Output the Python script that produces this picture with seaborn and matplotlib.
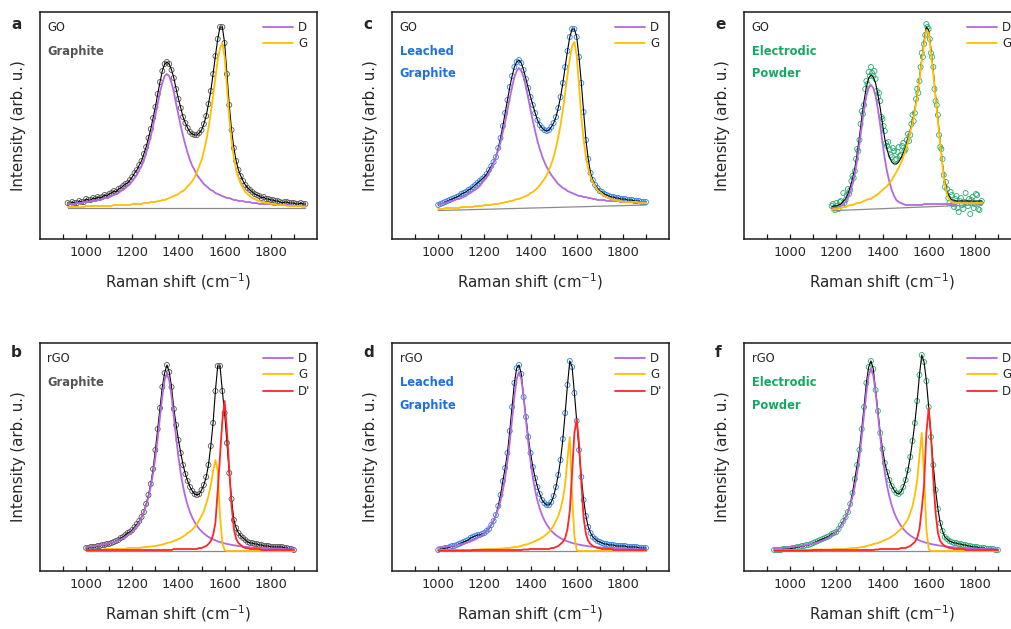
import numpy as np
import pandas as pd
import matplotlib
matplotlib.use('Agg')
import matplotlib.pyplot as plt
import seaborn as sns
from matplotlib.lines import Line2D
from matplotlib.ticker import FixedLocator

sns.set_style('white')
plt.rcParams['font.family'] = ['DejaVu Sans']

# ---- data (height in axis units, 10 cm-1 grid) ----
# a: GO, graphite (920-1950)
spectrum_a = [36, 35, 37, 36, 36, 38, 37, 37, 40, 39,
              39, 41, 40, 42, 41, 42, 44, 43, 45, 46,
              48, 47, 50, 51, 53, 55, 56, 59, 62, 66,
              69, 74, 78, 85, 92, 101, 110, 121, 132, 145,
              157, 168, 175, 177, 175, 169, 161, 150, 140, 131,
              122, 116, 111, 107, 105, 104, 104, 106, 109, 115,
              123, 135, 148, 165, 183, 200, 212, 212, 196, 165,
              134, 109, 91, 78, 69, 63, 58, 54, 51, 49,
              47, 45, 44, 43, 41, 42, 40, 40, 39, 39,
              38, 38, 37, 36, 37, 37, 36, 36, 36, 35,
              35, 36, 35, 35]
d_band_a = [4, 4, 4, 4, 5, 5, 5, 6, 6, 6,
            7, 7, 7, 8, 8, 9, 10, 10, 11, 12,
            13, 14, 15, 17, 18, 20, 22, 24, 27, 30,
            33, 38, 42, 48, 55, 63, 72, 82, 93, 104,
            116, 125, 132, 134, 132, 125, 116, 104, 93, 82,
            72, 63, 55, 48, 42, 38, 33, 30, 27, 24,
            22, 20, 18, 17, 15, 14, 13, 12, 11, 10,
            10, 9, 8, 8, 7, 7, 7, 6, 6, 6,
            5, 5, 5, 4, 4, 4, 4, 4, 4, 3,
            3, 3, 3, 3, 3, 3, 3, 3, 2, 2,
            2, 2, 2, 2]
g_band_a = [1, 1, 1, 1, 1, 1, 1, 1, 2, 2,
            2, 2, 2, 2, 2, 2, 2, 2, 2, 2,
            3, 3, 3, 3, 3, 3, 3, 3, 4, 4,
            4, 4, 4, 5, 5, 5, 6, 6, 6, 7,
            7, 8, 8, 9, 10, 11, 12, 13, 14, 16,
            17, 19, 22, 24, 27, 31, 36, 42, 48, 57,
            67, 80, 95, 112, 130, 148, 160, 165, 151, 121,
            90, 67, 50, 38, 30, 24, 20, 16, 14, 12,
            10, 9, 8, 7, 6, 6, 5, 5, 4, 4,
            4, 3, 3, 3, 3, 2, 2, 2, 2, 2,
            2, 2, 1, 1]
base_a = 31

# b: rGO, graphite (1000-1900)
spectrum_b = [23, 23, 24, 24, 24, 25, 25, 26, 26, 27,
              27, 28, 29, 30, 31, 33, 34, 36, 38, 39,
              41, 44, 47, 50, 54, 59, 67, 76, 87, 102,
              121, 142, 163, 184, 198, 206, 199, 184, 162, 146,
              131, 118, 106, 97, 90, 84, 80, 77, 76, 77,
              81, 86, 94, 106, 125, 148, 180, 205, 205, 180,
              158, 128, 98, 72, 51, 43, 38, 35, 33, 31,
              29, 28, 28, 27, 27, 26, 26, 25, 25, 25,
              24, 24, 24, 24, 24, 24, 23, 23, 22, 22,
              21]
d_band_b = [3.9, 4.2, 4.4, 4.7, 5.0, 5.4, 5.7, 6.1, 6.6, 7.1,
            7.6, 8.2, 8.9, 9.7, 10.6, 11.6, 12.8, 14.1, 15.7, 17.5,
            19.6, 22.2, 25.2, 28.9, 33.3, 38.8, 45.6, 54.0, 64.5, 77.6,
            93.7, 112.8, 134.0, 154.9, 170.9, 177.0, 170.9, 154.9, 134.0, 112.8,
            93.7, 77.6, 64.5, 54.0, 45.6, 38.8, 33.3, 28.9, 25.2, 22.2,
            19.6, 17.5, 15.7, 14.1, 12.8, 11.6, 10.6, 9.7, 8.9, 8.2,
            7.6, 7.1, 6.6, 6.1, 5.7, 5.4, 5.0, 4.7, 4.4, 4.2,
            3.9, 3.7, 3.5, 3.3, 3.1, 3.0, 2.9, 2.7, 2.6, 2.5,
            2.4, 2.3, 2.2, 2.2, 2.1, 2.0, 1.9, 1.8, 1.8, 1.7,
            1.6]
g_band_b = [1, 1, 1, 1, 1, 1, 1, 1, 2, 2,
            2, 2, 2, 2, 2, 2, 2, 2, 3, 3,
            3, 3, 3, 3, 3.5, 3.7, 4, 4.2, 4.5, 4.7,
            5, 5.5, 6, 6.5, 7, 8, 8.5, 9, 10, 11,
            12, 13, 14.5, 16, 18, 19.5, 21.5, 24, 27, 31,
            35, 40, 47, 55, 66, 80, 91, 80, 35, 8,
            1, 0, 0, 0, 0, 0, 0, 0, 0, 0,
            0, 0, 0, 0, 0, 0, 0, 0, 0, 0,
            0, 0, 0, 0, 0, 0, 0, 0, 0, 0,
            0]
dprime_b = [1, 1, 1, 1, 1, 1, 1, 1, 1, 1,
            1, 1, 1, 1, 1, 1, 1, 1, 1, 1,
            1, 1, 1, 1, 1, 1, 1, 1, 1, 1,
            1, 1, 1, 1, 1, 1, 1, 1, 2, 2,
            2, 2, 2, 2, 2, 2, 2, 2, 2, 3,
            3, 4, 5, 7, 10, 16, 28, 60, 95, 130,
            150, 120, 82, 45, 22, 12, 8, 6, 4, 3,
            3, 2, 2, 2, 2, 2, 1, 1, 1, 1,
            1, 1, 1, 1, 1, 1, 1, 1, 1, 1,
            1]
base_b = 20

# c: GO, leached graphite (1000-1900), bands include the sloped baseline
spectrum_c = [34, 35, 36, 37, 38, 39, 40, 41, 42, 43,
              45, 46, 47, 49, 50, 52, 54, 56, 58, 60,
              62, 65, 69, 73, 77, 82, 91, 101, 113, 126,
              139, 152, 163, 172, 177, 179, 176, 169, 160, 151,
              142, 134, 126, 119, 114, 111, 109, 108, 109, 112,
              116, 122, 131, 142, 156, 172, 188, 202, 210, 210,
              202, 182, 156, 127, 99, 80, 66, 59, 54, 51,
              48, 47, 45, 44, 43, 42, 42, 41, 41, 40,
              40, 40, 39, 39, 39, 38, 38, 38, 37, 37,
              37]
d_band_c = [35, 35, 36, 36, 37, 38, 38, 39, 40, 40,
            41, 42, 43, 45, 46, 48, 49, 51, 53, 56,
            59, 62, 66, 71, 76, 82, 89, 97, 107, 117,
            129, 141, 152, 162, 168, 171, 168, 162, 152, 141,
            129, 118, 108, 98, 90, 83, 77, 72, 68, 64,
            61, 58, 55, 53, 51, 50, 48, 47, 46, 45,
            44, 43, 43, 42, 42, 41, 41, 40, 40, 39,
            39, 39, 39, 38, 38, 38, 38, 38, 38, 37,
            37, 37, 37, 37, 37, 37, 37, 37, 37, 37,
            37]
g_band_c = [30, 30, 30, 31, 31, 31, 31, 31, 31, 31,
            32, 32, 32, 32, 32, 32, 33, 33, 33, 33,
            34, 34, 34, 34, 35, 35, 35, 36, 36, 37,
            37, 38, 38, 39, 40, 40, 41, 42, 43, 44,
            46, 47, 49, 51, 54, 57, 60, 64, 69, 75,
            82, 91, 102, 114, 129, 146, 164, 180, 193, 197,
            183, 153, 122, 99, 82, 70, 62, 57, 53, 49,
            47, 45, 43, 42, 41, 40, 39, 39, 38, 38,
            37, 37, 37, 37, 37, 37, 37, 36, 36, 36,
            36]
baseline_c = [28.5, 34.0]   # at 1000 and 1900

# d: rGO, leached graphite (1000-1900)
spectrum_d = [21, 22, 22, 23, 23, 24, 25, 25, 26, 27,
              28, 29, 30, 31, 33, 34, 35, 36, 36, 37,
              38, 40, 42, 46, 50, 56, 65, 76, 90, 103,
              118, 140, 164, 188, 203, 206, 197, 174, 154, 134,
              118, 104, 93, 84, 77, 71, 68, 66, 66, 69,
              75, 84, 96, 111, 132, 158, 186, 210, 204, 178,
              150, 121, 94, 71, 55, 44, 38, 34, 32, 30,
              29, 28, 27, 27, 26, 26, 26, 25, 25, 25,
              25, 25, 24, 24, 24, 24, 24, 23, 23, 23,
              23]
d_band_d = [3.6, 3.8, 4.0, 4.3, 4.5, 4.8, 5.2, 5.5, 5.9, 6.4,
            6.9, 7.4, 8.1, 8.8, 9.6, 10.5, 11.6, 12.8, 14.3, 15.9,
            17.9, 20.2, 23.1, 26.5, 30.7, 35.8, 42.2, 50.3, 60.5, 73.4,
            89.5, 109.1, 131.6, 154.3, 172.1, 179.0, 172.1, 154.3, 131.6, 109.1,
            89.5, 73.4, 60.5, 50.3, 42.2, 35.8, 30.7, 26.5, 23.1, 20.2,
            17.9, 15.9, 14.3, 12.8, 11.6, 10.5, 9.6, 8.8, 8.1, 7.4,
            6.9, 6.4, 5.9, 5.5, 5.2, 4.8, 4.5, 4.3, 4.0, 3.8,
            3.6, 3.4, 3.2, 3.0, 2.9, 2.8, 2.6, 2.5, 2.4, 2.3,
            2.2, 2.1, 2.0, 1.9, 1.9, 1.8, 1.7, 1.7, 1.6, 1.6,
            1.5]
g_band_d = [1, 1, 1, 1, 1, 1, 1, 1, 1, 1,
            1, 1, 1, 1, 1, 1.2, 1.3, 1.4, 1.5, 1.6,
            2, 2, 2, 2, 2, 2, 2.2, 2.4, 2.6, 2.8,
            3, 3, 3.5, 4, 4, 4.5, 5, 6, 6.5, 7,
            8, 9, 10, 11, 12, 13.5, 15, 17, 19, 22,
            25.5, 30, 35, 42, 52, 67, 92, 114, 55, 15,
            1, 0, 0, 0, 0, 0, 0, 0, 0, 0,
            0, 0, 0, 0, 0, 0, 0, 0, 0, 0,
            0, 0, 0, 0, 0, 0, 0, 0, 0, 0,
            0]
dprime_d = [0.5, 0.5, 0.5, 0.5, 0.5, 0.5, 0.5, 0.5, 0.5, 0.5,
            0.5, 0.5, 0.5, 0.5, 0.5, 1, 1, 1, 1, 1,
            1, 1, 1, 1, 1, 1, 1, 1, 1, 1,
            1, 1, 1, 1, 1, 1, 1, 1.5, 1.5, 1.5,
            2, 2, 2, 2, 2, 2, 2, 2, 2, 3,
            3, 4, 5, 7, 9, 13, 22, 40, 78, 118,
            132, 108, 68, 33, 17, 10, 7, 5, 4, 3,
            3, 2, 2, 2, 2, 2, 1, 1, 1, 1,
            1, 1, 1, 1, 1, 1, 1, 1, 1, 1,
            1]
base_d = 20

# e: GO, electrodic powder (data every 5 cm-1 from 1180, fit/bands every 10)
spectrum_e = [33, 35, 31, 29, 36, 33, 30, 37, 38, 34,
              46, 36, 39, 44, 50, 45, 49, 58, 63, 61,
              68, 80, 90, 88, 99, 115, 128, 125, 134, 150,
              158, 155, 167, 163, 172, 166, 163, 168, 160, 148,
              142, 146, 138, 122, 120, 113, 108, 96, 93, 97,
              90, 84, 82, 91, 88, 79, 80, 87, 92, 83,
              84, 93, 96, 88, 90, 99, 105, 98, 104, 115,
              124, 118, 126, 140, 150, 146, 158, 172, 186, 182,
              195, 204, 215, 212, 210, 200, 186, 182, 172, 150,
              138, 134, 124, 104, 92, 90, 80, 64, 52, 57,
              50, 41, 36, 47, 44, 35, 32, 40, 43, 31,
              27, 38, 41, 34, 30, 37, 46, 36, 33, 40,
              25, 39, 42, 31, 35, 45, 44, 30, 29, 36,
              38]
fit_e = [32, 33, 33, 34, 35, 38, 40, 45, 52, 60,
         71, 85, 102, 121, 138, 152, 161, 164, 162, 156,
         144, 131, 115, 100, 89, 82, 77, 75, 75, 77,
         81, 86, 92, 100, 109, 118, 130, 144, 161, 180,
         198, 212, 209, 190, 168, 143, 120, 97, 75, 58,
         47, 42, 39, 39, 38, 38, 38, 38, 38, 38,
         38, 38, 38, 38, 38, 38]
d_band_e = [31, 31, 31, 32, 33, 35, 37, 41, 47, 55,
            65, 79, 95, 113, 130, 143, 151, 154, 151, 143,
            130, 114, 96, 80, 67, 57, 49, 43, 39, 37,
            36, 35, 34, 34, 34, 34, 34, 34, 34, 34,
            35, 35, 35, 35, 35, 35, 35, 35, 35, 35,
            35, 35, 35, 35, 35, 36, 36, 36, 36, 36,
            36, 36, 36, 36, 36, 36]
g_band_e = [29, 30, 30, 31, 31, 32, 32, 33, 34, 34,
            35, 36, 36, 37, 38, 39, 40, 40, 42, 43,
            45, 47, 49, 51, 53, 56, 59, 63, 67, 71,
            76, 82, 89, 97, 107, 116, 128, 142, 159, 178,
            195, 209, 206, 187, 165, 141, 118, 95, 73, 55,
            44, 39, 37, 36, 36, 36, 36, 36, 36, 36,
            36, 36, 36, 36, 36, 36]
baseline_e = [28.3, 34.4]   # at 1180 and 1830

# f: rGO, electrodic powder (930-1900)
spectrum_f = [21, 21, 21, 21, 22, 22, 22, 22, 23, 23,
              24, 24, 25, 25, 26, 26, 27, 28, 29, 30,
              31, 32, 33, 34, 35, 37, 38, 39, 42, 46,
              50, 54, 59, 67, 78, 92, 106, 121, 142, 164,
              188, 204, 210, 202, 181, 160, 138, 122, 108, 99,
              91, 85, 81, 78, 77, 79, 84, 91, 101, 114,
              130, 148, 170, 196, 216, 209, 190, 164, 134, 106,
              81, 62, 48, 40, 34, 32, 30, 29, 28, 28,
              27, 27, 26, 26, 25, 25, 24, 24, 24, 23,
              23, 23, 22, 22, 22, 22, 21, 21]
d_band_f = [2.8, 2.9, 3.0, 3.2, 3.4, 3.5, 3.7, 3.9, 4.2, 4.4,
            4.7, 5.0, 5.3, 5.7, 6.1, 6.5, 7.0, 7.6, 8.2, 8.9,
            9.6, 10.5, 11.5, 12.7, 14.0, 15.6, 17.4, 19.5, 22.1, 25.1,
            28.8, 33.2, 38.7, 45.6, 54.1, 64.7, 78.1, 94.6, 114.3, 136.5,
            158.5, 175.5, 182.0, 175.5, 158.5, 136.5, 114.3, 94.6, 78.1, 64.7,
            54.1, 45.6, 38.7, 33.2, 28.8, 25.1, 22.1, 19.5, 17.4, 15.6,
            14.0, 12.7, 11.5, 10.5, 9.6, 8.9, 8.2, 7.6, 7.0, 6.5,
            6.1, 5.7, 5.3, 5.0, 4.7, 4.4, 4.2, 3.9, 3.7, 3.5,
            3.4, 3.2, 3.0, 2.9, 2.8, 2.6, 2.5, 2.4, 2.3, 2.2,
            2.1, 2.0, 2.0, 1.9, 1.8, 1.7, 1.7, 1.6]
g_band_f = [1, 1, 1, 1, 1, 1, 1, 1, 1, 1,
            1, 1, 1, 1, 1, 1, 1.5, 1.5, 1.5, 1.5,
            1.5, 1.5, 1.5, 1.5, 1.5, 1.5, 2, 2, 2, 2,
            2, 2, 2.5, 2.5, 3, 3, 3, 3.5, 4, 4,
            5, 5.5, 6, 7, 7.5, 8, 9, 10, 11, 12,
            13, 14.5, 16, 18, 20, 22, 25, 28, 32, 38,
            45, 56, 70, 95, 118, 75, 22, 2, 0, 0,
            0, 0, 0, 0, 0, 0, 0, 0, 0, 0,
            0, 0, 0, 0, 0, 0, 0, 0, 0, 0,
            0, 0, 0, 0, 0, 0, 0, 0]
dprime_f = [0.5, 0.5, 0.5, 0.5, 0.5, 0.5, 0.5, 0.5, 0.5, 0.5,
            0.5, 0.5, 0.5, 0.5, 0.5, 0.5, 0.5, 1, 1, 1,
            1, 1, 1, 1, 1, 1, 1, 1, 1, 1,
            1, 1, 1, 1, 1, 1, 1, 1, 1, 1,
            1, 1, 1, 1, 1.5, 1.5, 2, 2, 2, 2,
            2, 2, 2, 2, 2, 3, 3, 3, 4, 5,
            7, 9, 13, 22, 42, 66, 118, 143, 116, 72,
            38, 18, 10, 7, 5, 4, 3, 3, 2, 2,
            2, 2, 2, 1, 1, 1, 1, 1, 1, 1,
            1, 1, 1, 1, 1, 1, 1, 1]
base_f = 20

# ---- style ----
C_D, C_G, C_DP = '#b468e0', '#ffbe00', '#ff2626'
GRAY_DOT, BLUE_DOT, GREEN_DOT = '#555555', '#2b7fe3', '#22ad6c'
GRAY_TXT, BLUE_TXT, GREEN_TXT = '#555555', '#1f70e6', '#16a862'


def grid(start, values, step=10):
    return start + step * np.arange(len(values))


def draw(ax, letter, kind, sample, txt_color, dot_color,
         sx, sy, fx, fy, bands, bx, by, top_row):
    df = pd.DataFrame({'shift': sx, 'counts': sy})
    sns.scatterplot(data=df, x='shift', y='counts', ax=ax, s=13, marker='o',
                    color=dot_color, linewidth=0.6, legend=False, zorder=2)
    pts = ax.collections[-1]
    pts.set_facecolor('none')
    pts.set_edgecolor(dot_color)
    sns.lineplot(x=fx, y=fy, ax=ax, color='black', lw=0.8,
                 estimator=None, sort=False, zorder=3)
    sns.lineplot(x=bx, y=by, ax=ax, color='#8a8a8a', lw=0.9,
                 estimator=None, sort=False, zorder=3)
    handles = []
    for x, y, col, lab in bands:
        sns.lineplot(x=x, y=y, ax=ax, color=col, lw=1.3,
                     estimator=None, sort=False, zorder=4)
        handles.append(Line2D([], [], color=col, lw=1.3, label=lab))

    ax.set_xlim(800, 2000)
    ax.set_ylim(0, 227 if top_row else 228)
    ax.set_yticks([])
    ax.xaxis.set_major_locator(FixedLocator([1000, 1200, 1400, 1600, 1800]))
    ax.xaxis.set_minor_locator(FixedLocator([900, 1100, 1300, 1500, 1700, 1900]))
    ax.tick_params(axis='x', which='both', direction='in', length=3.5,
                   width=0.9, top=False, bottom=True, color='#1a1a1a')
    ax.tick_params(axis='x', which='major', labelsize=9.3, pad=5)
    for s in ax.spines.values():
        s.set_linewidth(1.1)
        s.set_color('#1a1a1a')
    ax.set_xlabel('Raman shift (cm$^{-1}$)', fontsize=10.8, labelpad=9)
    ax.set_ylabel('Intensity (arb. u.)', fontsize=10.8, labelpad=10)

    ax.text(-0.105, 0.923 if top_row else 0.939, letter, transform=ax.transAxes,
            fontsize=11, fontweight='bold', va='baseline', ha='left')
    ax.text(0.027, 0.93, kind, transform=ax.transAxes, fontsize=8.3,
            va='center', ha='left')
    for i, word in enumerate(sample):
        ax.text(0.027, 0.828 - 0.101 * i, word, transform=ax.transAxes,
                fontsize=8.3, fontweight='bold', color=txt_color,
                va='center', ha='left')
    ax.legend(handles=handles, loc='upper left', bbox_to_anchor=(0.805, 0.962),
              frameon=False, fontsize=8.5, handlelength=2.55,
              handletextpad=0.42, labelspacing=0.3, borderpad=0,
              borderaxespad=0)


fig = plt.figure(figsize=(10.12, 6.29), dpi=100)
lefts = [0.0395, 0.3874, 0.7352]
w = 0.2737
ax_a = fig.add_axes([lefts[0], 0.62, w, 0.3609])
ax_c = fig.add_axes([lefts[1], 0.62, w, 0.3609])
ax_e = fig.add_axes([lefts[2], 0.62, w, 0.3609])
ax_b = fig.add_axes([lefts[0], 0.0922, w, 0.3625])
ax_d = fig.add_axes([lefts[1], 0.0922, w, 0.3625])
ax_f = fig.add_axes([lefts[2], 0.0922, w, 0.3625])

# a
xa = grid(920, spectrum_a)
draw(ax_a, 'a', 'GO', ['Graphite'], GRAY_TXT, GRAY_DOT, xa, spectrum_a, xa, spectrum_a,
     [(xa, np.array(d_band_a) + base_a, C_D, 'D'),
      (xa, np.array(g_band_a) + base_a, C_G, 'G')],
     [xa[0], xa[-1]], [base_a, base_a], True)

# b
xb = grid(1000, spectrum_b)
draw(ax_b, 'b', 'rGO', ['Graphite'], GRAY_TXT, GRAY_DOT, xb, spectrum_b, xb, spectrum_b,
     [(xb, np.array(d_band_b) + base_b, C_D, 'D'),
      (xb, np.array(g_band_b) + base_b, C_G, 'G'),
      (xb, np.array(dprime_b) + base_b, C_DP, "D'")],
     [xb[0], xb[-1]], [base_b, base_b], False)

# c
xc = grid(1000, spectrum_c)
draw(ax_c, 'c', 'GO', ['Leached', 'Graphite'], BLUE_TXT, BLUE_DOT, xc, spectrum_c, xc, spectrum_c,
     [(xc, d_band_c, C_D, 'D'), (xc, g_band_c, C_G, 'G')],
     [xc[0], xc[-1]], baseline_c, True)

# d
xd = grid(1000, spectrum_d)
draw(ax_d, 'd', 'rGO', ['Leached', 'Graphite'], BLUE_TXT, BLUE_DOT, xd, spectrum_d, xd, spectrum_d,
     [(xd, np.array(d_band_d) + base_d, C_D, 'D'),
      (xd, np.array(g_band_d) + base_d, C_G, 'G'),
      (xd, np.array(dprime_d) + base_d, C_DP, "D'")],
     [xd[0], xd[-1]], [base_d, base_d], False)

# e
xe_data = grid(1180, spectrum_e, step=5)
xe = grid(1180, fit_e)
draw(ax_e, 'e', 'GO', ['Electrodic', 'Powder'], GREEN_TXT, GREEN_DOT, xe_data, spectrum_e, xe, fit_e,
     [(xe, d_band_e, C_D, 'D'), (xe, g_band_e, C_G, 'G')],
     [xe[0], xe[-1]], baseline_e, True)

# f
xf = grid(930, spectrum_f)
draw(ax_f, 'f', 'rGO', ['Electrodic', 'Powder'], GREEN_TXT, GREEN_DOT, xf, spectrum_f, xf, spectrum_f,
     [(xf, np.array(d_band_f) + base_f, C_D, 'D'),
      (xf, np.array(g_band_f) + base_f, C_G, 'G'),
      (xf, np.array(dprime_f) + base_f, C_DP, "D'")],
     [xf[0], xf[-1]], [base_f, base_f], False)

fig.savefig('out.png', dpi=100)
